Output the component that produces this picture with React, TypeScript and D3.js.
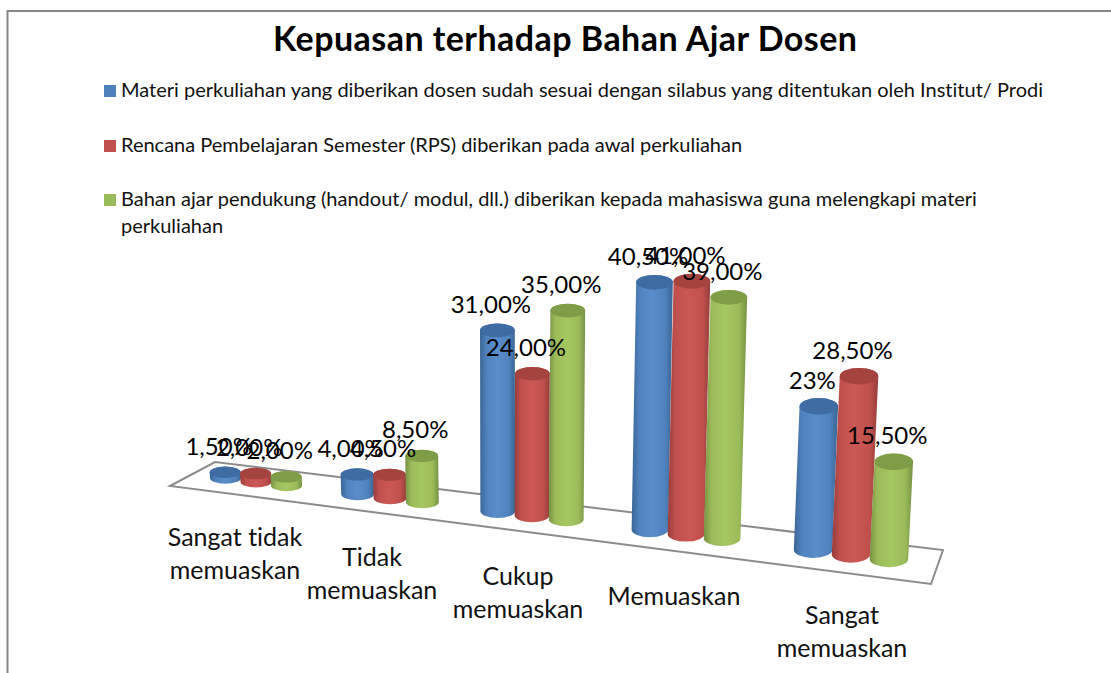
import React from "react";
import * as d3 from "d3";

const W = 1111, H = 673;
const FONT = "Lato, Carlito, Calibri, sans-serif";

const title = "Kepuasan terhadap Bahan Ajar Dosen";
const categories = [["Sangat tidak", "memuaskan"], ["Tidak", "memuaskan"], ["Cukup", "memuaskan"], ["Memuaskan"], ["Sangat", "memuaskan"]];
const seriesNames = [
  ["Materi perkuliahan yang diberikan dosen sudah sesuai dengan silabus yang ditentukan oleh Institut/ Prodi"],
  ["Rencana Pembelajaran Semester (RPS) diberikan pada awal perkuliahan"],
  ["Bahan ajar pendukung (handout/ modul, dll.) diberikan kepada mahasiswa guna melengkapi materi", "perkuliahan"],
];
const materi = [1.5, 4, 31, 40.5, 23];
const rencana = [2, 4.5, 24, 41, 28.5];
const bahan = [2, 8.5, 35, 39, 15.5];
const materiLabels = ["1,50%", "4,00%", "31,00%", "40,50%", "23%"];
const rencanaLabels = ["2,00%", "4,50%", "24,00%", "41,00%", "28,50%"];
const bahanLabels = ["2,00%", "8,50%", "35,00%", "39,00%", "15,50%"];
const seriesValues = [materi, rencana, bahan];
const seriesLabels = [materiLabels, rencanaLabels, bahanLabels];
const colors = [
  { base: "#4f81bd", edge: "#3a6494", mid: "#5a8ecb", top: "#3f6ca3" },
  { base: "#c0504d", edge: "#963d3b", mid: "#cc5855", top: "#a5433f" },
  { base: "#9bbb59", edge: "#779144", mid: "#a5c761", top: "#7f9c46" },
];

const idx = [0, 1, 2, 3, 4];
const catX = d3.scaleLinear().domain(idx).range([256, 390, 532, 686, 851]);
const barW = d3.scaleLinear().domain([0, 4]).range([31, 38.5]);
const baseY = d3.scaleLinear().domain([226, 889]).range([478, 559]);
const pxPerPct = d3.scaleLinear().domain([226, 420, 499, 566, 686, 889]).range([3.8, 5.4, 5.84, 5.97, 6.17, 6.27]);
const ryScale = d3.scaleLinear().domain(idx).range([5.8, 6.2, 6.8, 7.4, 8.3]);
const lean = d3.scaleLinear().domain([390, 510, 851]).range([-0.02, 0, 0.045]);
const labelOffset = d3.scaleLinear().domain(idx).range([-21, -18, -14, -12, -9]);
const catLabelY = d3.scaleLinear().domain([0, 4]).range([546, 624]);

const floor: [number, number][] = [[170, 486], [215, 462], [943, 550], [931, 584]];
const floorPath = d3.line()(floor) + "Z";

function barGeom(c: number, s: number) {
  const w = barW(c);
  const x0 = catX(c) + (s - 1) * w * 0.985;
  const y0 = baseY(x0);
  const h = seriesValues[s][c] * pxPerPct(x0);
  return { w, x0, y0, x1: x0 + h * lean(x0), y1: y0 - h };
}

function Bar({ c, s }: { c: number; s: number }) {
  const { w, x0, y0, x1, y1 } = barGeom(c, s);
  const rx = w / 2, ry = ryScale(c);
  const d = `M${x1 - rx},${y1}L${x0 - rx},${y0}A${rx},${ry} 0 0 0 ${x0 + rx},${y0}L${x1 + rx},${y1}A${rx},${ry} 0 0 0 ${x1 - rx},${y1}Z`;
  return (
    <g>
      <path d={d} fill={`url(#cyl${s})`} />
      <ellipse cx={x1} cy={y1} rx={rx} ry={ry} fill={colors[s].top} />
    </g>
  );
}

function Label({ c, s }: { c: number; s: number }) {
  const { x1, y1 } = barGeom(c, s);
  return (
    <text x={x1 - 6.5} y={y1 - 17.5} textAnchor="middle" fontSize={24} fill="#000">
      {seriesLabels[s][c]}
    </text>
  );
}

export default function App() {
  return (
    <svg width={W} height={H} viewBox={`0 0 ${W} ${H}`} fontFamily={FONT}
      style={{ position: "absolute", left: 0, top: 0, background: "#fff", fontVariantLigatures: "none" }}>
      <defs>
        {colors.map((k, i) => (
          <linearGradient key={i} id={`cyl${i}`} x1="0" x2="1" y1="0" y2="0">
            <stop offset="0" stopColor={k.edge} />
            <stop offset="0.18" stopColor={k.base} />
            <stop offset="0.5" stopColor={k.mid} />
            <stop offset="0.82" stopColor={k.base} />
            <stop offset="1" stopColor={k.edge} />
          </linearGradient>
        ))}
      </defs>
      <path d={`M7.5,${H}V11H${W}`} fill="none" stroke="#868686" strokeWidth={2} />
      <text x={565} y={51} textAnchor="middle" fontSize={34} fontWeight={700} fill="#000" textLength={584} lengthAdjust="spacing">{title}</text>

      {seriesNames.map((lines, i) => {
        const y = [91, 146, 200][i];
        return (
          <g key={i}>
            <rect x={104} y={y - 6} width={12} height={12} fill={colors[i].base} />
            {lines.map((t, j) => (
              <text key={j} x={121} y={y + 6 + j * 27} fontSize={20} fill="#111">{t}</text>
            ))}
          </g>
        );
      })}

      <path d={floorPath} fill="none" stroke="#8c8c8c" strokeWidth={2} />

      {idx.map((c) => [0, 1, 2].map((s) => <Bar key={`${c}-${s}`} c={c} s={s} />))}
      {idx.map((c) => [0, 1, 2].map((s) => <Label key={`${c}-${s}`} c={c} s={s} />))}

      {categories.map((lines, c) => (
        <g key={c}>
          {lines.map((t, j) => (
            <text key={j} x={catX(c) + labelOffset(c)} y={catLabelY(c) + j * 33} textAnchor="middle" fontSize={25} fill="#111">{t}</text>
          ))}
        </g>
      ))}
    </svg>
  );
}
